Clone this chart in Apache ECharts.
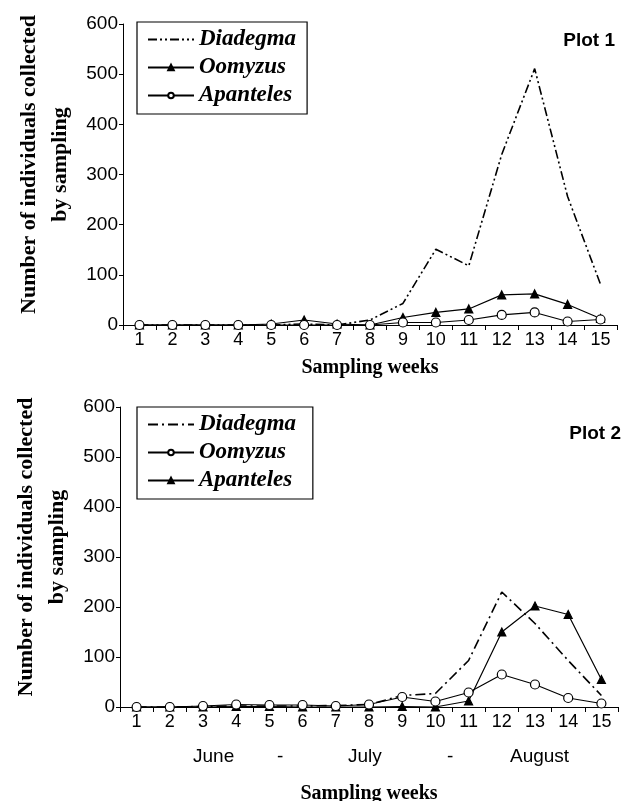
<!DOCTYPE html>
<html>
<head>
<meta charset="utf-8">
<script src="https://cdn.jsdelivr.net/npm/echarts@6/dist/echarts.min.js"></script>
<style>
  html, body { margin: 0; padding: 0; background: #fff; }
  #chart { width: 627px; height: 801px; }
</style>
</head>
<body>
<div id="chart"></div>
<script>
// weeks 1..15
const weeks = ['1', '2', '3', '4', '5', '6', '7', '8', '9', '10', '11', '12', '13', '14', '15'];
const yTicks = [0, 100, 200, 300, 400, 500, 600];
const months = ['June', '-', 'July', '-', 'August'];

// Plot 1
const p1Diadegma = [0, 0, 0, 0, 0, 2, 0, 10, 43, 151, 118, 340, 511, 256, 81];
const p1Oomyzus = [0, 0, 0, 0, 2, 10, 2, 0, 15, 25, 32, 60, 62, 41, 13];
const p1Apanteles = [0, 0, 0, 0, 0, 0, 0, 0, 5, 5, 10, 20, 25, 7, 11];

// Plot 2
const p2Diadegma = [0, 0, 1, 2, 2, 2, 3, 5, 23, 27, 93, 230, 167, 93, 23];
const p2Oomyzus = [0, 0, 2, 5, 4, 4, 2, 5, 20, 11, 29, 65, 45, 18, 7];
const p2Apanteles = [0, 0, 0, 1, 1, 0, 0, 0, 1, 0, 12, 150, 202, 185, 55];

const sans = 'Liberation Sans, Arial, sans-serif';
const serif = 'Liberation Serif, Times New Roman, serif';

const myChart = echarts.init(document.getElementById('chart'));

function xAxisOpt(gridIndex, nameGap) {
  return {
    type: 'category',
    gridIndex: gridIndex,
    data: weeks,
    boundaryGap: true,
    name: 'Sampling weeks',
    nameLocation: 'middle',
    nameGap: nameGap,
    nameTextStyle: { fontFamily: serif, fontWeight: 'bold', fontSize: 20, color: '#000' },
    axisLine: { lineStyle: { color: '#000', width: 1 } },
    axisTick: { show: true, length: 5, lineStyle: { color: '#000' } },
    axisLabel: { color: '#000', fontFamily: sans, fontSize: 18, margin: 6 },
    splitLine: { show: false }
  };
}

function yAxisOpt(gridIndex) {
  return {
    type: 'value',
    gridIndex: gridIndex,
    min: 0,
    max: 600,
    interval: 100,
    name: 'Number of individuals collected\nby sampling',
    nameLocation: 'middle',
    nameGap: 47,
    nameTextStyle: {
      fontFamily: serif, fontWeight: 'bold', fontSize: 22, color: '#000', lineHeight: 31,
      padding: [0, 0, 0, 20]
    },
    axisLine: { show: true, lineStyle: { color: '#000', width: 1 } },
    axisTick: { show: true, length: 4, lineStyle: { color: '#000' } },
    axisLabel: {
      color: '#000', fontFamily: sans, fontSize: 19, margin: 5,
      formatter: (v) => (yTicks.indexOf(v) >= 0 ? String(v) : '')
    },
    splitLine: { show: false }
  };
}

function lineSeries(name, data, xi, symbol, dash) {
  return {
    name: name,
    type: 'line',
    xAxisIndex: xi,
    yAxisIndex: xi,
    data: data,
    symbol: symbol,
    symbolSize: symbol === 'triangle' ? 8 : 9,
    showSymbol: symbol !== 'none',
    lineStyle: { color: '#000', width: dash ? 1.6 : 1.2, type: dash || 'solid' },
    itemStyle: {
      color: symbol === 'circle' ? '#fff' : '#000',
      borderColor: '#000',
      borderWidth: 1.2
    },
    emphasis: { disabled: true },
    animation: false,
    z: symbol === 'circle' ? 3 : 2
  };
}

function legendOpt(names, top) {
  return {
    // first entry is the dashed line without marker
    data: names.map((n, i) => (i === 0 ? { name: n, itemStyle: { opacity: 0 } } : { name: n })),
    orient: 'vertical',
    left: 137,
    top: top,
    itemWidth: 46,
    itemHeight: 7,
    itemGap: 5,
    padding: [6, 11, 7, 10],
    borderColor: '#000',
    borderWidth: 1.2,
    textStyle: { fontFamily: serif, fontWeight: 'bold', fontStyle: 'italic', fontSize: 23, color: '#000', lineHeight: 23 },
    selectedMode: false
  };
}

myChart.setOption({
  backgroundColor: '#fff',
  animation: false,
  title: [
    { text: 'Plot 1', right: 7, top: 26, textStyle: { fontFamily: sans, fontWeight: 'bold', fontSize: 19, color: '#000' } },
    { text: 'Plot 2', right: 1, top: 419, textStyle: { fontFamily: sans, fontWeight: 'bold', fontSize: 19, color: '#000' } }
  ],
  grid: [
    { left: 123, top: 24, width: 494, height: 301, outerBoundsMode: 'none' },
    { left: 120, top: 407, width: 498, height: 300, outerBoundsMode: 'none' }
  ],
  xAxis: [xAxisOpt(0, 33), xAxisOpt(1, 77)],
  yAxis: [yAxisOpt(0), yAxisOpt(1)],
  legend: [
    legendOpt(['Diadegma', 'Oomyzus', 'Apanteles'], 22),
    legendOpt(['Diadegma ', 'Oomyzus ', 'Apanteles '], 407)
  ],
  graphic: months.map((m, i) => ({
    type: 'text',
    left: [193, 277, 348, 447, 510][i],
    top: 747,
    style: { text: m, font: '19px ' + sans, fill: '#000' }
  })),
  series: [
    lineSeries('Diadegma', p1Diadegma, 0, 'none', [9, 3, 2, 3, 2, 3]),
    lineSeries('Oomyzus', p1Oomyzus, 0, 'triangle'),
    lineSeries('Apanteles', p1Apanteles, 0, 'circle'),
    lineSeries('Diadegma ', p2Diadegma, 1, 'none', [10, 4, 2, 4]),
    lineSeries('Oomyzus ', p2Oomyzus, 1, 'circle'),
    lineSeries('Apanteles ', p2Apanteles, 1, 'triangle')
  ]
});
</script>
</body>
</html>
